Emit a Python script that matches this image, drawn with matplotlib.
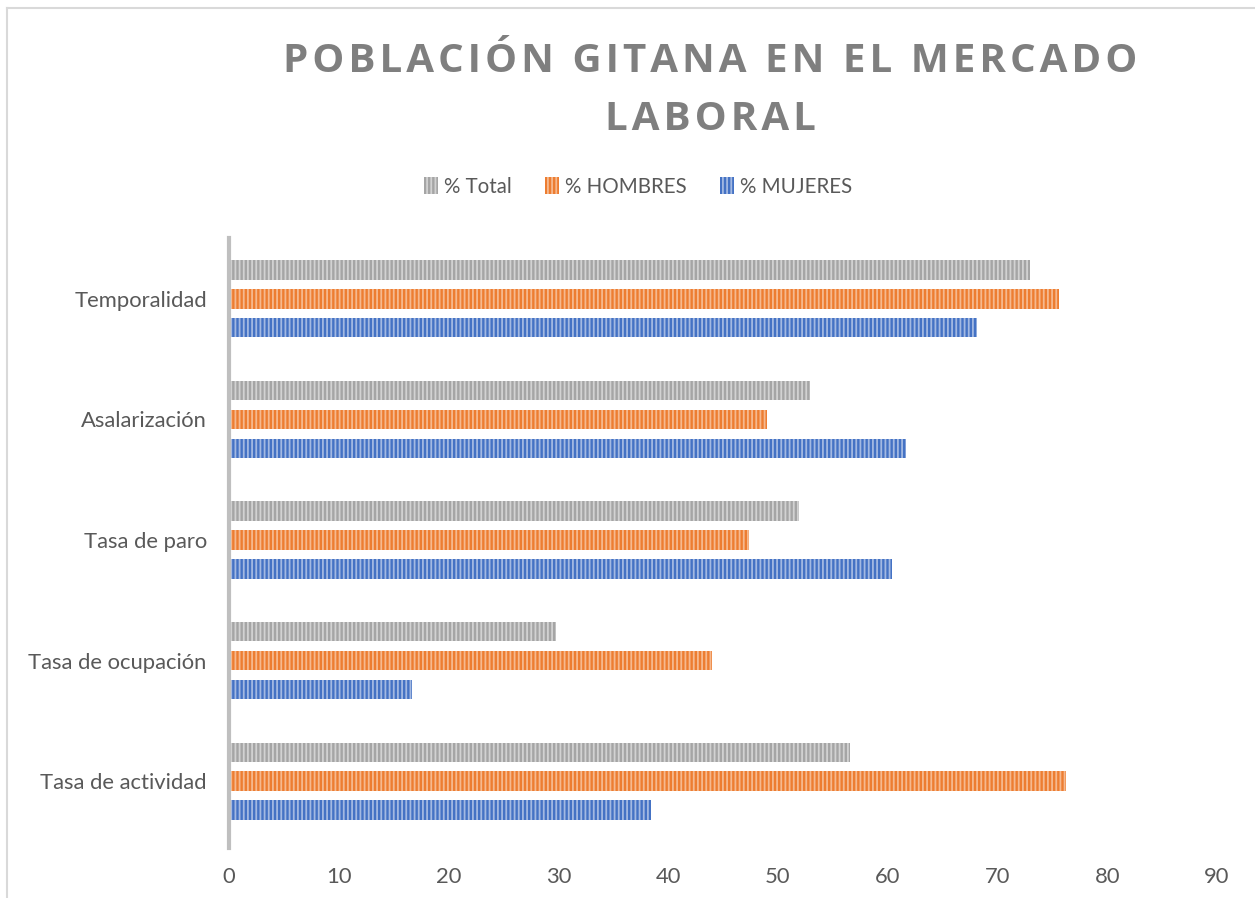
import numpy as np
import matplotlib
matplotlib.use("Agg")
import matplotlib.pyplot as plt
from matplotlib.patches import Patch
from matplotlib.lines import Line2D

categorias = ["Tasa de actividad", "Tasa de ocupación", "Tasa de paro",
              "Asalarización", "Temporalidad"]
total = [56.6, 29.8, 51.9, 52.9, 73.0]
hombres = [76.2, 44.0, 47.4, 49.0, 75.6]
mujeres = [38.4, 16.7, 60.4, 61.7, 68.1]

series = [("% Total", total, "#a5a5a5", "#d2d2d2"),
          ("% HOMBRES", hombres, "#ed7d31", "#f6b98f"),
          ("% MUJERES", mujeres, "#4472c4", "#a3b9e2")]

plt.rcParams["font.family"] = ["Lato", "DejaVu Sans"]
plt.rcParams["hatch.linewidth"] = 1.3

fig = plt.figure(figsize=(12.55, 8.98), dpi=100)
ax = fig.add_axes([229 / 1255, 1 - 848 / 898, (1217 - 229) / 1255, (848 - 238) / 898])

y = np.arange(len(categorias))
offsets = [0.24, 0.0, -0.24]
alto = 0.16
for (nombre, vals, col, hcol), off in zip(series, offsets):
    ax.barh(y + off, vals, height=alto, color=col, edgecolor=hcol,
            linewidth=0, hatch="||||", label=nombre)

ax.set_xlim(0, 90)
ax.set_ylim(-0.555, 4.505)
ax.set_xticks(range(0, 91, 10))
ax.set_yticks(y)
ax.set_yticklabels(categorias)
ax.tick_params(axis="both", length=0, labelsize=15.8, labelcolor="#595959")
ax.tick_params(axis="x", pad=14)
ax.tick_params(axis="y", pad=16)
for s in ["top", "right", "bottom"]:
    ax.spines[s].set_visible(False)
ax.spines["left"].set_color("#bfbfbf")
ax.spines["left"].set_linewidth(3)

handles = [Patch(facecolor=c, edgecolor=h, linewidth=0, hatch="||||")
           for _, _, c, h in series]
fig.legend(handles, [s[0] for s in series], loc="center",
           bbox_to_anchor=(638 / 1255, 1 - 187 / 898), ncol=3, frameon=False,
           fontsize=14.8, labelcolor="#595959", handlelength=0.7,
           handleheight=0.9, handletextpad=0.3, columnspacing=1.6)

def espaciado(t):
    return "\u200a".join(t)

fig.text(710 / 1255, 1 - 62 / 898, espaciado("POBLACIÓN GITANA EN EL MERCADO"),
         ha="center", va="center", fontsize=29, fontweight="bold",
         color="#7f7f7f", family=["Open Sans", "DejaVu Sans"])
fig.text(710 / 1255, 1 - 119 / 898, espaciado("LABORAL"),
         ha="center", va="center", fontsize=29, fontweight="bold",
         color="#7f7f7f", family=["Open Sans", "DejaVu Sans"])

# borde del area del grafico
fig.add_artist(Line2D([7 / 1255, 7 / 1255], [0, 1 - 8 / 898],
                      transform=fig.transFigure, color="#d9d9d9", lw=1.5))
fig.add_artist(Line2D([7 / 1255, 1], [1 - 8 / 898, 1 - 8 / 898],
                      transform=fig.transFigure, color="#d9d9d9", lw=1.5))

fig.savefig("out.png", dpi=100)
